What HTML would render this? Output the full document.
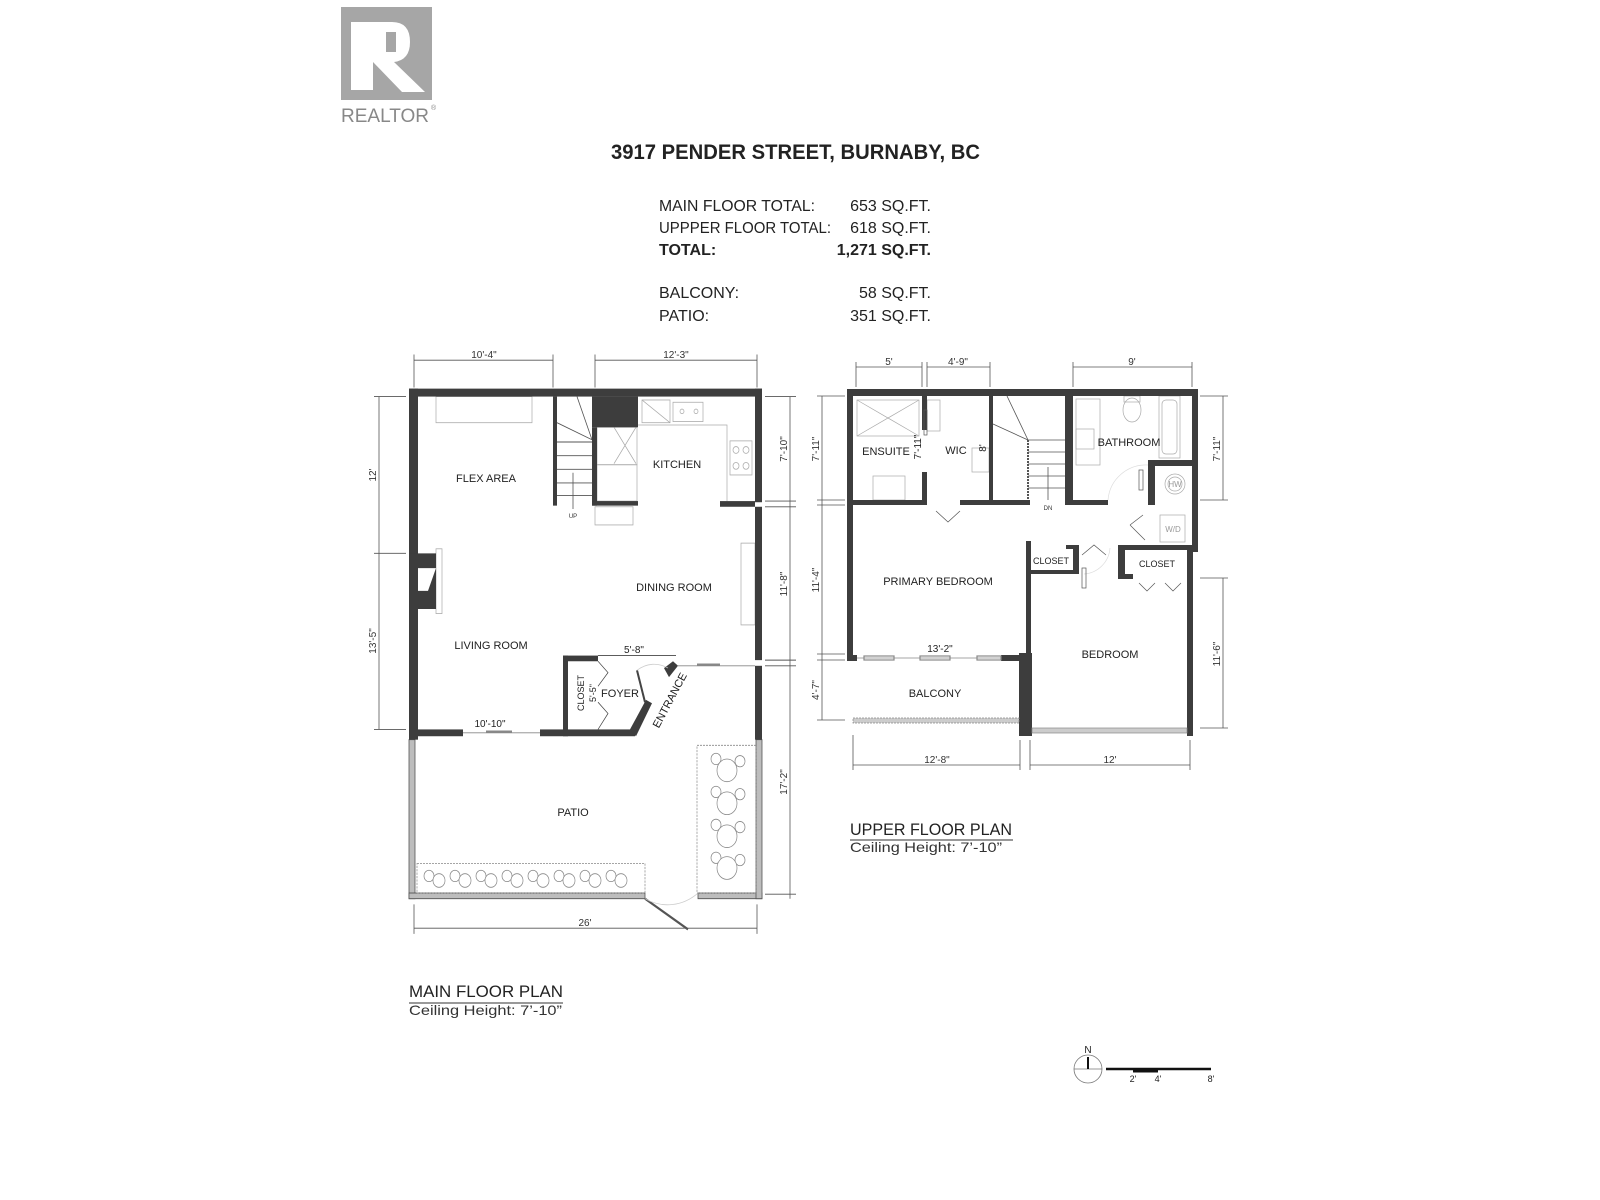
<!DOCTYPE html>
<html><head><meta charset="utf-8"><style>
html,body{margin:0;padding:0;background:#fff;}
svg{display:block;}
text{font-family:"Liberation Sans",sans-serif;}
</style></head><body>
<svg width="1600" height="1200" viewBox="0 0 1600 1200" xmlns="http://www.w3.org/2000/svg">
<!-- Logo -->
<rect x="341" y="7" width="91" height="93" fill="#a6a6a6"/>
<rect x="351" y="22" width="18" height="68" fill="#fff"/>
<path d="M369 22 H392 Q410 22 410 42 Q410 60 394 62 L425 92 H402 L373 62 V90 H369 Z" fill="#fff"/>
<rect x="386" y="32" width="10" height="20" fill="#a6a6a6"/>
<text x="341" y="122" font-size="19" fill="#888" textLength="88" lengthAdjust="spacingAndGlyphs">REALTOR</text>
<text x="431" y="110" font-size="7" fill="#888">®</text>

<!-- Header -->
<text x="611" y="159" font-size="21" font-weight="bold" fill="#222" textLength="369" lengthAdjust="spacingAndGlyphs">3917 PENDER STREET, BURNABY, BC</text>
<g font-size="16" fill="#222">
<text x="659" y="211" textLength="156" lengthAdjust="spacingAndGlyphs">MAIN FLOOR TOTAL:</text>
<text x="931" y="211" text-anchor="end">653 SQ.FT.</text>
<text x="659" y="233" textLength="172" lengthAdjust="spacingAndGlyphs">UPPPER FLOOR TOTAL:</text>
<text x="931" y="233" text-anchor="end">618 SQ.FT.</text>
<text x="659" y="255" font-weight="bold">TOTAL:</text>
<text x="931" y="255" text-anchor="end" font-weight="bold">1,271 SQ.FT.</text>
<text x="659" y="298">BALCONY:</text>
<text x="931" y="298" text-anchor="end">58 SQ.FT.</text>
<text x="659" y="321">PATIO:</text>
<text x="931" y="321" text-anchor="end">351 SQ.FT.</text>
</g>

<!-- ========== MAIN FLOOR (shapes, vertically stretched) ========== -->
<g transform="translate(0,350) scale(1,1.136) translate(0,-350)">
<g stroke="#555" stroke-width="0.8" fill="none">
<line x1="414" y1="359" x2="553" y2="359"/><line x1="414" y1="354" x2="414" y2="383"/><line x1="553" y1="354" x2="553" y2="383"/>
<line x1="595" y1="359" x2="757" y2="359"/><line x1="595" y1="354" x2="595" y2="383"/><line x1="757" y1="354" x2="757" y2="383"/>
<line x1="379" y1="391" x2="379" y2="684"/>
<line x1="374" y1="391" x2="406" y2="391"/><line x1="374" y1="529" x2="406" y2="529"/><line x1="374" y1="684" x2="406" y2="684"/>
<line x1="790" y1="391" x2="790" y2="833"/>
<line x1="765" y1="391" x2="796" y2="391"/><line x1="765" y1="483" x2="796" y2="483"/><line x1="765" y1="488" x2="796" y2="488"/>
<line x1="765" y1="623" x2="796" y2="623"/><line x1="765" y1="628" x2="796" y2="628"/><line x1="765" y1="829" x2="796" y2="829"/>
<line x1="414" y1="859" x2="757" y2="859"/><line x1="414" y1="838" x2="414" y2="864"/><line x1="757" y1="838" x2="757" y2="864"/>
</g>
<g fill="#bdbdbd" stroke="#555" stroke-width="0.8">
<rect x="409" y="693" width="6" height="140"/>
<rect x="409" y="828" width="236" height="5"/>
<rect x="698" y="828" width="64" height="5"/>
<rect x="756" y="693" width="6" height="140"/>
</g>
<line x1="645" y1="833" x2="688" y2="860" stroke="#555" stroke-width="2"/>
<path d="M645 833 A50 50 0 0 0 698 828" stroke="#ccc" fill="none" stroke-width="0.7"/>
<g stroke="#888" stroke-width="0.7" fill="none">
<rect x="417" y="802" width="228" height="26" stroke-dasharray="2 1"/>
<rect x="697" y="698" width="59" height="130" stroke-dasharray="2 1"/>
</g>
<g stroke="#888" stroke-width="0.7" fill="#fff">
<circle cx="429" cy="813" r="5"/><circle cx="455" cy="813" r="5"/><circle cx="481" cy="813" r="5"/><circle cx="507" cy="813" r="5"/>
<circle cx="533" cy="813" r="5"/><circle cx="559" cy="813" r="5"/><circle cx="585" cy="813" r="5"/><circle cx="611" cy="813" r="5"/>
<circle cx="439" cy="817" r="6"/><circle cx="465" cy="817" r="6"/><circle cx="491" cy="817" r="6"/><circle cx="517" cy="817" r="6"/>
<circle cx="543" cy="817" r="6"/><circle cx="569" cy="817" r="6"/><circle cx="595" cy="817" r="6"/><circle cx="621" cy="817" r="6"/>
<circle cx="716" cy="710" r="5"/><circle cx="740" cy="712" r="5"/><circle cx="716" cy="739" r="5"/><circle cx="740" cy="741" r="5"/>
<circle cx="716" cy="768" r="5"/><circle cx="740" cy="770" r="5"/><circle cx="716" cy="797" r="5"/><circle cx="740" cy="799" r="5"/>
<circle cx="727" cy="720" r="10"/><circle cx="727" cy="749" r="10"/><circle cx="727" cy="778" r="10"/><circle cx="727" cy="806" r="10"/>
</g>
<g stroke="#aaa" stroke-width="0.7" fill="none">
<rect x="436" y="391" width="96" height="23"/>
<rect x="436" y="525" width="6" height="57"/>
<rect x="741" y="520" width="14" height="72"/>
<path d="M638 416 H727 V483"/>
<rect x="642" y="394" width="28" height="20"/><line x1="642" y1="394" x2="670" y2="414"/>
<rect x="673" y="396" width="30" height="17"/><circle cx="682" cy="404" r="2"/><circle cx="696" cy="404" r="2"/>
<rect x="730" y="430" width="22" height="30"/><circle cx="736" cy="438" r="3"/><circle cx="746" cy="438" r="3"/><circle cx="736" cy="452" r="3"/><circle cx="746" cy="452" r="3"/>
<rect x="597" y="418" width="40" height="33"/><line x1="614" y1="418" x2="636" y2="450"/><line x1="636" y1="418" x2="614" y2="450"/>
<rect x="597" y="451" width="40" height="32"/>
<rect x="595" y="488" width="38" height="16"/>
</g>
<g stroke="#555" stroke-width="0.8" fill="none">
<line x1="557" y1="431" x2="592" y2="431"/><line x1="557" y1="443" x2="592" y2="443"/><line x1="557" y1="455" x2="592" y2="455"/>
<line x1="557" y1="467" x2="592" y2="467"/><line x1="557" y1="478" x2="592" y2="478"/>
<line x1="577" y1="391" x2="592" y2="429"/><line x1="557" y1="414" x2="592" y2="429"/>
<line x1="573" y1="458" x2="573" y2="490"/>
</g>
<g fill="#3d3d3d">
<rect x="409" y="384" width="353" height="7"/>
<rect x="409" y="384" width="9" height="309"/>
<rect x="755" y="384" width="7" height="100"/>
<rect x="755" y="488" width="7" height="135"/>
<rect x="755" y="628" width="7" height="65"/>
<rect x="553" y="391" width="4" height="96"/>
<rect x="592" y="391" width="46" height="27"/>
<rect x="592" y="418" width="5" height="69"/>
<rect x="592" y="483" width="46" height="4"/>
<rect x="720" y="483" width="35" height="5"/>
<path d="M409 529 H436 V578 H409 Z"/>
<rect x="418" y="684" width="45" height="6"/>
<rect x="540" y="684" width="95" height="6"/>
<rect x="563" y="619" width="5" height="71"/>
<rect x="563" y="619" width="35" height="5"/>
<path d="M630 684 L646 658 L652 661 L636 690 Z"/>
<path d="M664 630 L673 624 L678 628 L669 638 Z"/>
</g>
<path d="M418 542 H436 L428 562 H418 Z" fill="#fff"/>
<g stroke="#888" stroke-width="0.7" fill="none">
<line x1="463" y1="687" x2="540" y2="687"/><line x1="486" y1="686" x2="512" y2="686" stroke-width="2"/>
<line x1="678" y1="628" x2="755" y2="628"/><line x1="697" y1="627" x2="720" y2="627" stroke-width="2"/>
<path d="M598 624 L608 634 L598 646 M598 660 L608 670 L598 684" stroke="#444"/>
<line x1="598" y1="619" x2="676" y2="619" stroke="#444"/>
<line x1="637" y1="632" x2="645" y2="660" stroke="#444" stroke-width="2"/>
<path d="M637 632 A30 30 0 0 1 668 630" stroke="#ccc"/>
</g>
</g>
<!-- main floor text -->
<g font-size="10" fill="#333" text-anchor="middle">
<text x="484" y="358">10'-4"</text>
<text x="676" y="358">12'-3"</text>
<text x="585" y="926">26'</text>
<text transform="translate(376,475) rotate(-90)">12'</text>
<text transform="translate(376,641) rotate(-90)">13'-5"</text>
<text transform="translate(787,449) rotate(-90)">7'-10"</text>
<text transform="translate(787,584) rotate(-90)">11'-8"</text>
<text transform="translate(787,782) rotate(-90)">17'-2"</text>
</g>
<g font-size="11" fill="#222" text-anchor="middle">
<text x="573" y="816">PATIO</text>
<text x="486" y="482">FLEX AREA</text>
<text x="677" y="468">KITCHEN</text>
<text x="674" y="591">DINING ROOM</text>
<text x="491" y="649">LIVING ROOM</text>
<text x="620" y="697">FOYER</text>
<text x="634" y="653" font-size="10">5'-8"</text>
<text x="490" y="727" font-size="10">10'-10"</text>
<text transform="translate(584,693) rotate(-90)" font-size="9">CLOSET</text>
<text transform="translate(596,693) rotate(-90)" font-size="9">5'-5"</text>
<text transform="translate(673,702) rotate(-62)" font-size="11">ENTRANCE</text>
</g>
<text x="573" y="518" font-size="6" text-anchor="middle" fill="#333">UP</text>

<text x="409" y="997" font-size="17" fill="#222" textLength="154" lengthAdjust="spacingAndGlyphs">MAIN FLOOR PLAN</text>
<line x1="409" y1="1003" x2="563" y2="1003" stroke="#333" stroke-width="1"/>
<text x="409" y="1015" font-size="14" fill="#333" textLength="153" lengthAdjust="spacingAndGlyphs">Ceiling Height: 7’-10”</text>

<!-- ========== UPPER FLOOR ========== -->
<g stroke="#555" stroke-width="0.8" fill="none">
<line x1="856" y1="367" x2="922" y2="367"/><line x1="856" y1="362" x2="856" y2="387"/><line x1="922" y1="362" x2="922" y2="387"/>
<line x1="927" y1="367" x2="990" y2="367"/><line x1="927" y1="362" x2="927" y2="387"/><line x1="990" y1="362" x2="990" y2="387"/>
<line x1="1073" y1="367" x2="1192" y2="367"/><line x1="1073" y1="362" x2="1073" y2="387"/><line x1="1192" y1="362" x2="1192" y2="387"/>
<line x1="822" y1="396" x2="822" y2="720"/>
<line x1="817" y1="396" x2="845" y2="396"/><line x1="817" y1="500" x2="845" y2="500"/><line x1="817" y1="505" x2="845" y2="505"/>
<line x1="817" y1="654" x2="845" y2="654"/><line x1="817" y1="660" x2="845" y2="660"/><line x1="817" y1="720" x2="845" y2="720"/>
<line x1="1223" y1="396" x2="1223" y2="500"/><line x1="1200" y1="396" x2="1228" y2="396"/><line x1="1200" y1="500" x2="1228" y2="500"/>
<line x1="1223" y1="578" x2="1223" y2="728"/><line x1="1200" y1="578" x2="1228" y2="578"/><line x1="1200" y1="728" x2="1228" y2="728"/>
<line x1="853" y1="765" x2="1020" y2="765"/><line x1="853" y1="735" x2="853" y2="770"/><line x1="1020" y1="740" x2="1020" y2="770"/>
<line x1="1030" y1="765" x2="1190" y2="765"/><line x1="1030" y1="740" x2="1030" y2="770"/><line x1="1190" y1="740" x2="1190" y2="770"/>
</g>
<g font-size="10" fill="#333" text-anchor="middle">
<text x="889" y="365">5'</text><text x="958" y="365">4'-9"</text><text x="1132" y="365">9'</text>
<text x="937" y="763">12'-8"</text><text x="1110" y="763">12'</text>
<text transform="translate(819,449) rotate(-90)">7'-11"</text>
<text transform="translate(819,580) rotate(-90)">11'-4"</text>
<text transform="translate(819,690) rotate(-90)">4'-7"</text>
<text transform="translate(1220,449) rotate(-90)">7'-11"</text>
<text transform="translate(1220,654) rotate(-90)">11'-6"</text>
</g>
<g stroke="#aaa" stroke-width="0.7" fill="none">
<rect x="857" y="400" width="62" height="36"/><line x1="857" y1="400" x2="919" y2="436"/><line x1="919" y1="400" x2="857" y2="436"/>
<rect x="873" y="476" width="32" height="24"/>
<rect x="927" y="400" width="13" height="31"/>
<rect x="972" y="448" width="17" height="24"/>
<rect x="1076" y="399" width="24" height="66"/>
<rect x="1076" y="429" width="18" height="20"/>
<ellipse cx="1132" cy="410" rx="9" ry="12"/><rect x="1124" y="396" width="16" height="6"/>
<rect x="1159" y="396" width="21" height="62"/><rect x="1162" y="400" width="15" height="54" rx="4"/>
<circle cx="1175" cy="484" r="10"/><circle cx="1175" cy="484" r="7"/>
<rect x="1160" y="515" width="25" height="27"/>
<path d="M1108 500 A38 38 0 0 1 1148 465" stroke="#ddd"/>
<path d="M1084 574 A28 28 0 0 0 1110 548" stroke="#ddd"/>
</g>
<g font-size="8" fill="#999" text-anchor="middle"><text x="1175" y="487">HW</text><text x="1173" y="532">W/D</text></g>
<g stroke="#555" stroke-width="0.8" fill="none">
<line x1="1028" y1="440" x2="1065" y2="440"/><line x1="1028" y1="452" x2="1065" y2="452"/><line x1="1028" y1="464" x2="1065" y2="464"/>
<line x1="1028" y1="476" x2="1065" y2="476"/><line x1="1028" y1="488" x2="1065" y2="488"/>
<line x1="1007" y1="396" x2="1028" y2="440"/><line x1="993" y1="424" x2="1028" y2="440"/>
<line x1="1028" y1="440" x2="1028" y2="500" stroke-dasharray="2 1" stroke-width="2"/>
<line x1="1048" y1="467" x2="1048" y2="500"/>
</g>
<text x="1048" y="510" font-size="6" text-anchor="middle" fill="#333">DN</text>
<g fill="#3d3d3d">
<rect x="847" y="389" width="351" height="7"/>
<rect x="847" y="389" width="6" height="272"/>
<rect x="1192" y="389" width="6" height="163"/>
<rect x="1187" y="545" width="6" height="191"/>
<rect x="853" y="500" width="74" height="5"/>
<rect x="922" y="396" width="5" height="34"/>
<rect x="922" y="472" width="5" height="33"/>
<rect x="960" y="500" width="70" height="5"/>
<rect x="989" y="396" width="4" height="104"/>
<rect x="1065" y="396" width="8" height="109"/>
<rect x="1073" y="500" width="35" height="5"/>
<rect x="1148" y="460" width="7" height="45"/>
<rect x="1148" y="460" width="44" height="6"/>
<rect x="1026" y="541" width="5" height="112"/>
<rect x="1019" y="653" width="13" height="83"/>
<rect x="1026" y="570" width="53" height="4"/>
<rect x="1073" y="545" width="6" height="29"/>
<rect x="1066" y="545" width="13" height="4"/>
<rect x="1118" y="545" width="75" height="5"/>
<rect x="1118" y="545" width="7" height="33"/>
<rect x="1118" y="574" width="15" height="5"/>
<rect x="847" y="655" width="10" height="6"/>
<rect x="1001" y="655" width="25" height="6"/>
</g>
<g stroke="#888" stroke-width="0.7" fill="none">
<line x1="857" y1="658" x2="1001" y2="658"/>
<rect x="864" y="656" width="30" height="4" stroke-width="1.2"/><rect x="920" y="656" width="30" height="4" stroke-width="1.2"/><rect x="977" y="656" width="24" height="4" stroke-width="1.2"/>
<rect x="853" y="718" width="166" height="5" fill="#ccc" stroke-dasharray="2 1"/>
<rect x="1032" y="728" width="155" height="5" fill="#ccc"/>
<path d="M936 511 L948 522 L960 511 M1082 555 L1094 545 L1106 555" stroke="#555"/>
<path d="M1139 583 L1147 591 L1155 583 M1165 583 L1173 591 L1181 583 M1130 525 L1143 515 M1130 525 L1145 540" stroke="#555"/>
<rect x="1082" y="568" width="4" height="20" stroke="#555"/>
<rect x="1139" y="470" width="4" height="20" stroke="#555"/>
<rect x="924" y="410" width="3" height="25" stroke="#555"/>
</g>
<g font-size="11" fill="#222" text-anchor="middle">
<text x="886" y="455">ENSUITE</text>
<text x="956" y="454">WIC</text>
<text x="1129" y="446">BATHROOM</text>
<text x="1051" y="564" font-size="9">CLOSET</text>
<text x="1157" y="567" font-size="9">CLOSET</text>
<text x="938" y="585">PRIMARY BEDROOM</text>
<text x="940" y="652" font-size="10">13'-2"</text>
<text x="1110" y="658">BEDROOM</text>
<text x="935" y="697">BALCONY</text>
<text transform="translate(921,447) rotate(-90)" font-size="10">7'-11"</text>
<text transform="translate(986,448) rotate(-90)" font-size="10">8'</text>
</g>

<text x="850" y="835" font-size="17" fill="#222" textLength="162" lengthAdjust="spacingAndGlyphs">UPPER FLOOR PLAN</text>
<line x1="850" y1="840" x2="1013" y2="840" stroke="#333" stroke-width="1"/>
<text x="850" y="852" font-size="14" fill="#333" textLength="152" lengthAdjust="spacingAndGlyphs">Ceiling Height: 7’-10”</text>

<!-- scale -->
<circle cx="1088" cy="1069" r="14" fill="none" stroke="#777" stroke-width="0.8"/>
<line x1="1074" y1="1069" x2="1102" y2="1069" stroke="#777" stroke-width="0.8"/>
<line x1="1088" y1="1057" x2="1088" y2="1069" stroke="#111" stroke-width="2"/>
<text x="1088" y="1053" font-size="10" text-anchor="middle" fill="#222">N</text>
<line x1="1106" y1="1069" x2="1211" y2="1069" stroke="#111" stroke-width="2.5"/>
<line x1="1133" y1="1071" x2="1158" y2="1071" stroke="#111" stroke-width="3"/>
<g font-size="9" fill="#222" text-anchor="middle"><text x="1133" y="1082">2'</text><text x="1158" y="1082">4'</text><text x="1211" y="1082">8'</text></g>
</svg>
</body></html>
